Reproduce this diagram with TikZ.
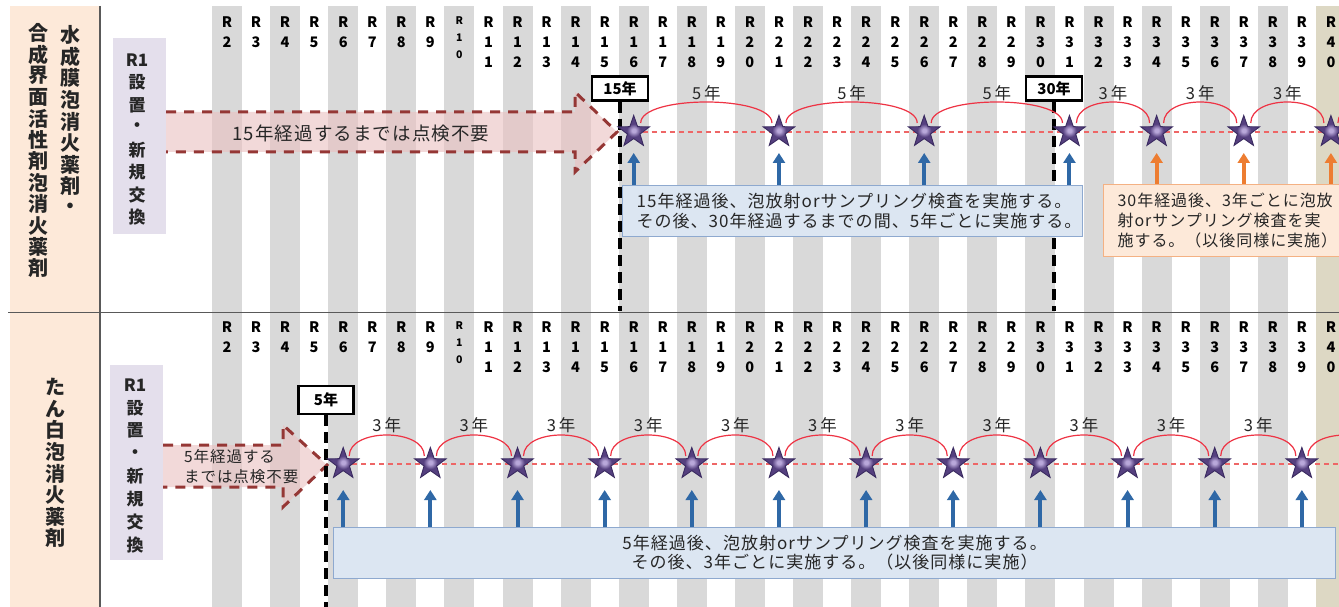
\documentclass[tikz,border=0pt]{standalone}
\usepackage{fontspec}
\newfontfamily\jp[LetterSpace=6]{Noto Sans CJK JP}
\newfontfamily\jph{Noto Sans CJK JP}
\usetikzlibrary{shapes.geometric,arrows.meta,calc}
\definecolor{stripe}{HTML}{D9D9D9}
\definecolor{tanc}{HTML}{DDD8C4}
\definecolor{peach}{HTML}{FDE9D9}
\definecolor{lav}{HTML}{E4DFEC}
\definecolor{arrowpink}{HTML}{EAC0C0}
\definecolor{arrowred}{HTML}{953735}
\definecolor{bluefill}{HTML}{DCE6F2}
\definecolor{blueedge}{HTML}{8EA9CF}
\definecolor{bluearrc}{HTML}{2F68A6}
\definecolor{orgfill}{HTML}{FDE9D9}
\definecolor{orgedge}{HTML}{F4B183}
\definecolor{orgarrc}{HTML}{ED7D31}
\definecolor{starout}{HTML}{55407F}
\definecolor{starin}{HTML}{B9A8DA}
\definecolor{staredge}{HTML}{3A2A60}
\definecolor{arcred}{HTML}{EE3344}
\definecolor{pinkline}{HTML}{EE6666}
\definecolor{txt}{HTML}{262626}
\definecolor{linec}{HTML}{595959}
\pgfdeclareradialshading{starshade}{\pgfpoint{0bp}{0bp}}{color(0bp)=(starin); color(3bp)=(starin); color(11bp)=(starout); color(50bp)=(starout)}
\begin{document}
\begin{tikzpicture}[x=1bp,y=-1bp,
  hdr/.style={font=\jph\bfseries\fontsize{14.5bp}{16bp}\selectfont, text=black, inner sep=0},
  hdrs/.style={font=\jph\bfseries\fontsize{10.5bp}{12bp}\selectfont, text=black, inner sep=0},
  vlab/.style={font=\jph\bfseries\fontsize{20bp}{21bp}\selectfont, text=txt, inner sep=0},
  r1lab/.style={font=\jph\bfseries\fontsize{17bp}{19bp}\selectfont, text=txt, inner sep=0},
  bigfill/.style={fill=arrowpink, fill opacity=0.6},
  bigline/.style={draw=arrowred, line width=3bp, dash pattern=on 10bp off 8bp},
  yearbox/.style={draw=black, line width=2.5bp, fill=white, minimum width=56bp, inner sep=0,
    font=\jph\bfseries\fontsize{15bp}{16bp}\selectfont},
  ydash/.style={draw=black, line width=4.5bp, dash pattern=on 11bp off 6bp},
  pinkdash/.style={draw=pinkline, line width=1.3bp, dash pattern=on 5bp off 4bp},
  arcline/.style={draw=arcred, line width=1.2bp},
  arclab/.style={font=\jp\fontsize{16.5bp}{17bp}\selectfont, text=txt, inner sep=0},
  mystar/.style={star, star points=5, star point ratio=2.5, minimum size=33bp, inner sep=0,
    draw=staredge, line width=0.9bp, shading=starshade},
  bluearr/.style={draw=bluearrc, line width=4bp, -{Triangle[width=12bp,length=10bp]}},
  orgarr/.style={draw=orgarrc, line width=4bp, -{Triangle[width=12bp,length=10bp]}},
  bluebox/.style={draw=blueedge, line width=1.2bp, fill=bluefill, inner ysep=3bp, text=txt,
    font=\jp\fontsize{17bp}{20bp}\selectfont},
  orgbox/.style={draw=orgedge, line width=1.2bp, fill=orgfill, inner ysep=3bp, text=txt,
    font=\jp\fontsize{16bp}{20bp}\selectfont}
]
\useasboundingbox (0,0) rectangle (1339,607);
\clip (0,0) rectangle (1339,607);
\fill[white] (0,0) rectangle (1339,607);
% column stripes
\foreach \n in {2,4,...,38} \fill[stripe] ({227+(\n-2)*29.05-15},6) rectangle ++(30,601);
\fill[tanc] ({227+38*29.05-15},6) rectangle ++(30,601);
% left label column
\fill[peach] (10,6) rectangle (100,607);
\draw[linec, line width=1.2bp] (100,6) -- (100,607);
\draw[linec, line width=1bp] (8,312) -- (1339,312);
% column headers
\foreach \o in {0,305} {
  \foreach \n in {2,...,9} {
    \node[hdr] (hr\o-\n) at ({227+(\n-2)*29.05},{22+\o}) {R};
    \node[hdr] (hd\o-\n) at ({227+(\n-2)*29.05},{42+\o}) {\n};
  }
  \node[hdrs] (hr\o-10) at ({227+8*29.05},{21+\o}) {R};
  \node[hdrs] (ha\o-10) at ({227+8*29.05},{38+\o}) {1};
  \node[hdrs] (hb\o-10) at ({227+8*29.05},{55+\o}) {0};
  \foreach \n in {11,...,40} {
    \pgfmathtruncatemacro\da{\n/10}
    \pgfmathtruncatemacro\db{\n-10*\da}
    \node[hdr] (hr\o-\n) at ({227+(\n-2)*29.05},{22+\o}) {R};
    \node[hdr] (ha\o-\n) at ({227+(\n-2)*29.05},{42+\o}) {\da};
    \node[hdr] (hb\o-\n) at ({227+(\n-2)*29.05},{62+\o}) {\db};
  }
}
% vertical category labels
\foreach \c [count=\i] in {水,成,膜,泡,消,火,薬,剤,・}
  \node[vlab] (va\i) at (70,{35+21.6*(\i-1)}) {\c};
\foreach \c [count=\i] in {合,成,界,面,活,性,剤,泡,消,火,薬,剤}
  \node[vlab] (vb\i) at (38,{33+21.4*(\i-1)}) {\c};
\foreach \c [count=\i] in {た,ん,白,泡,消,火,薬,剤}
  \node[vlab] (vc\i) at (55,{387+21.6*(\i-1)}) {\c};
% R1 boxes
\fill[lav] (113,38) rectangle (166,234);
\fill[lav] (110,365) rectangle (163,560);
\foreach \c [count=\i] in {R1,設,置,・,新,規,交,換}
  \node[r1lab] (ra\i) at (137,{60+22.5*(\i-1)}) {\c};
\foreach \c [count=\i] in {R1,設,置,・,新,規,交,換}
  \node[r1lab] (rb\i) at (135,{385+22.9*(\i-1)}) {\c};
% big dashed arrows
\fill[bigfill] (166,112) -- (575,112) -- (575,92) -- (617,132) -- (575,172) -- (575,152) -- (166,152) -- cycle;
\draw[bigline] (166,112) -- (575,112) -- (575,92) -- (617,132) -- (575,172) -- (575,152) -- (166,152);
\node[font=\jp\fontsize{18.5bp}{20bp}\selectfont, text=txt, inner sep=0] (atx1) at (361,133) {15年経過するまでは点検不要};
\fill[bigfill] (163,445) -- (283,445) -- (283,425) -- (327,465) -- (283,507) -- (283,487) -- (163,487) -- cycle;
\draw[bigline] (163,445) -- (283,445) -- (283,425) -- (327,465) -- (283,507) -- (283,487) -- (163,487);
\node[font=\jp\fontsize{15.5bp}{20bp}\selectfont, text=txt, align=left, anchor=west, inner sep=0] (atx2) at (184,467) {5年経過する\\までは点検不要};
% year boxes and dashed boundaries
\node[yearbox, minimum height=24bp] (y15) at (620,88.5) {15年};
\node[yearbox, minimum height=24bp] (y30) at (1054,88.5) {30年};
\node[yearbox, minimum height=28bp, minimum width=55bp] (y5) at (326,400) {5年};
\coordinate (sepc) at (0,311);
\coordinate (botc) at (0,607);
\draw[ydash] (y15.south) -- (y15.south |- sepc);
\draw[ydash] (y30.south) -- (y30.south |- sepc);
\draw[ydash] (y5.south) -- (y5.south |- botc);
% star positions
\foreach \n [count=\i] in {16,21,26,31,34,37,40,43} \coordinate (tp\i) at ({227+(\n-2)*29.05},132);
\foreach \n [count=\i] in {6,9,...,42} \coordinate (lp\i) at ({227+(\n-2)*29.05},464);
\draw[pinkdash] (tp1) -- (tp8);
\draw[pinkdash] (lp1) -- (lp13);
\foreach \i [evaluate=\i as \j using int(\i+1)] in {1,...,7}
  \draw[arcline] ($(tp\i)+(7,-9)$) .. controls ($(tp\i)+(7,-37)$) and ($(tp\j)+(-7,-37)$) .. ($(tp\j)+(-7,-9)$);
\foreach \i [evaluate=\i as \j using int(\i+1)] in {1,...,12}
  \draw[arcline] ($(lp\i)+(6,-8)$) .. controls ($(lp\i)+(6,-36)$) and ($(lp\j)+(-6,-36)$) .. ($(lp\j)+(-6,-8)$);
\foreach \i/\j/\t in {1/2/5,2/3/5,3/4/5,4/5/3,5/6/3,6/7/3}
  \node[arclab] (tl\i) at ($(tp\i)!0.5!(tp\j)+(0,-39)$) {\t\kern3bp 年};
\foreach \i [evaluate=\i as \j using int(\i+1)] in {1,...,11}
  \node[arclab] (ll\i) at ($(lp\i)!0.5!(lp\j)+(0,-39)$) {3\kern3bp 年};
\foreach \i in {1,...,7} \node[mystar] (ts\i) at (tp\i) {};
\foreach \i in {1,...,12} \node[mystar] (ls\i) at (lp\i) {};
% explanation boxes
\node[bluebox, anchor=north west, minimum width=460bp, minimum height=51bp, text width=432bp, inner xsep=14bp, align=left] (tbox) at (622,185)
  {15年経過後、泡放射orサンプリング検査を実施する。\\その後、30年経過するまでの間、5年ごとに実施する。};
\node[orgbox, anchor=north west, minimum width=260bp, minimum height=72bp, text width=232bp, inner xsep=14bp, align=left] (obox) at (1103,184)
  {30年経過後、3年ごとに泡放\\射orサンプリング検査を実\\施する。（以後同様に実施）};
\node[bluebox, anchor=north west, minimum width=1002bp, minimum height=51bp, align=center, font=\jp\fontsize{17bp}{19bp}\selectfont] (lbox) at (333,527)
  {5年経過後、泡放射orサンプリング検査を実施する。\\その後、3年ごとに実施する。（以後同様に実施）};
% arrows to inspection points
\foreach \i in {1,...,4} \draw[bluearr] (ts\i |- tbox.north) -- ($(ts\i)+(0,21)$);
\foreach \i in {5,6,7} \draw[orgarr] (ts\i |- obox.north) -- ($(ts\i)+(0,21)$);
\foreach \i in {1,...,12} \draw[bluearr] (ls\i |- lbox.north) -- ($(ls\i)+(0,26)$);
\end{tikzpicture}
\end{document}
